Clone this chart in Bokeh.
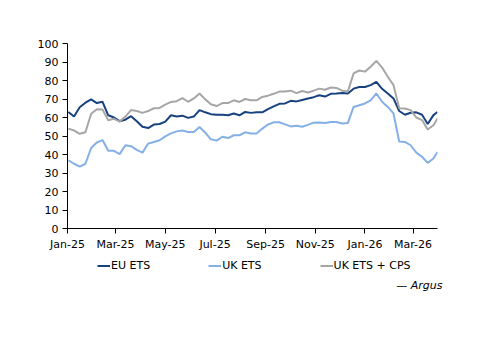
import pandas as pd
from bokeh.plotting import figure
from bokeh.layouts import column
from bokeh.models import (FixedTicker, DatetimeTickFormatter, Range1d, Legend,
                          LegendItem, Label)
from bokeh.embed import file_html
from bokeh.resources import INLINE

# weekly observations (Thursday closes) plus final end-of-March value
dates = list(pd.date_range("2025-01-02", "2026-03-26", freq="7D")) + [pd.Timestamp("2026-03-31")]

eu_ets = [63.0, 60.5, 65.5, 68.0, 69.8, 67.8, 68.5, 61.2, 60.0, 58.0,
          58.8, 60.7, 58.0, 55.0, 54.3, 56.2, 56.5, 57.8, 61.2, 60.5,
          61.0, 59.8, 60.5, 64.0, 62.8, 61.8, 61.5, 61.5, 61.2, 62.2,
          61.2, 63.0, 62.5, 62.8, 62.8, 64.5, 66.0, 67.4, 67.6, 69.0,
          68.7, 69.5, 70.3, 71.0, 72.0, 71.3, 72.8, 73.0, 73.3, 73.0,
          75.6, 76.5, 76.5, 77.5, 79.2, 75.5, 73.0, 70.3, 63.5, 61.5,
          62.6, 62.8, 61.5, 56.5, 61.3, 63.0]

uk_ets = [36.9, 35.0, 33.5, 35.0, 43.5, 46.5, 47.8, 42.0, 42.0, 40.2,
          45.0, 44.5, 42.5, 41.0, 45.9, 46.8, 47.7, 49.8, 51.4, 52.5,
          53.0, 52.2, 52.2, 54.9, 51.8, 48.2, 47.5, 49.6, 48.9, 50.4,
          50.4, 52.0, 51.4, 51.4, 54.0, 56.2, 57.4, 57.4, 56.3, 55.2,
          55.5, 55.0, 56.0, 57.2, 57.3, 57.0, 57.6, 57.6, 56.8, 57.0,
          65.7, 66.6, 67.6, 69.3, 73.0, 68.5, 65.7, 62.2, 47.0, 46.8,
          45.0, 41.0, 38.8, 35.5, 37.8, 41.4]

uk_ets_cps = [54.0, 53.0, 51.2, 52.0, 62.0, 64.5, 64.3, 58.5, 59.3, 57.8,
              60.5, 64.0, 63.5, 62.5, 63.5, 65.0, 65.2, 67.0, 68.4, 68.8,
              70.5, 68.5, 70.3, 73.0, 69.8, 67.2, 66.2, 67.8, 67.8, 69.3,
              68.4, 70.0, 69.3, 69.3, 71.1, 71.8, 72.8, 74.0, 74.0, 74.5,
              73.2, 74.3, 73.5, 74.5, 75.6, 75.0, 76.2, 76.0, 74.5, 74.0,
              83.8, 85.4, 84.8, 87.4, 90.6, 87.0, 82.0, 77.5, 65.0, 64.9,
              64.0, 60.0, 58.6, 53.5, 55.8, 59.5]

series_names = ["EU ETS", "UK ETS", "UK ETS + CPS"]
tick_months = ["2025-01-01", "2025-03-01", "2025-05-01", "2025-07-01",
               "2025-09-01", "2025-11-01", "2026-01-01", "2026-03-01"]
y_ticks = [0, 10, 20, 30, 40, 50, 60, 70, 80, 90, 100]
source_note = "— Argus"

colors = ["#17417f", "#84b0e6", "#a6a6a6"]
FONT = "DejaVu Sans"
all_series = [eu_ets, uk_ets, uk_ets_cps]

def ms(d):
    return pd.Timestamp(d).value / 1e6

# ---- main chart ----
p = figure(width=500, height=255, x_axis_type="datetime", output_backend="svg",
           toolbar_location=None,
           x_range=Range1d(ms("2025-01-01"), ms("2026-03-31")),
           y_range=Range1d(0, 100),
           min_border_left=67, min_border_right=63, min_border_top=43,
           min_border_bottom=27)
p.outline_line_color = None
p.xgrid.visible = False
p.ygrid.visible = False
p.frame_align = False

for vals, c in zip(all_series, colors):
    p.line(dates, vals, line_color=c, line_width=2)

p.xaxis.ticker = FixedTicker(ticks=[ms(t) for t in tick_months])
fmt = "%b-%y"
p.xaxis.formatter = DatetimeTickFormatter(days=fmt, months=fmt, years=fmt,
                                          hours=fmt, minutes=fmt)
p.yaxis.ticker = FixedTicker(ticks=y_ticks)
for ax in [p.xaxis, p.yaxis]:
    ax.axis_line_color = "black"
    ax.axis_line_width = 1
    ax.major_tick_line_color = "black"
    ax.major_tick_out = 5
    ax.major_tick_in = 0
    ax.minor_tick_line_color = None
    ax.major_label_text_font = FONT
    ax.major_label_text_font_size = "11px"
    ax.major_label_text_color = "black"
p.yaxis.major_label_standoff = 4
p.xaxis.major_label_standoff = 4

# ---- legend / source strip (series drawn off-screen so legend keys exist) ----
q = figure(width=500, height=98, output_backend="svg", toolbar_location=None,
           x_range=Range1d(0, 500), y_range=Range1d(0, 98),
           x_axis_location=None, y_axis_location=None,
           min_border=0)
q.outline_line_color = None
q.xgrid.visible = False
q.ygrid.visible = False
q.frame_align = False

legend_rs = [q.line(dates, vals, line_color=c, line_width=2)
             for vals, c in zip(all_series, colors)]
legend = Legend(items=[LegendItem(label=n, renderers=[r]) for n, r in zip(series_names, legend_rs)],
                orientation="horizontal", location=(97, 81),
                glyph_width=13, glyph_height=13, label_height=13,
                label_standoff=1, spacing=58,
                padding=0, margin=0, border_line_color=None,
                background_fill_alpha=0,
                label_text_font=FONT, label_text_font_size="11px",
                label_text_color="black")
q.add_layout(legend, "center")

q.add_layout(Label(x=442, y=68, text=source_note, text_align="right",
                   text_baseline="middle", text_font=FONT, text_font_size="11px",
                   text_font_style="italic", text_color="black"))

layout = column(p, q, spacing=0)
open("out.html", "w").write(file_html(layout, INLINE))
